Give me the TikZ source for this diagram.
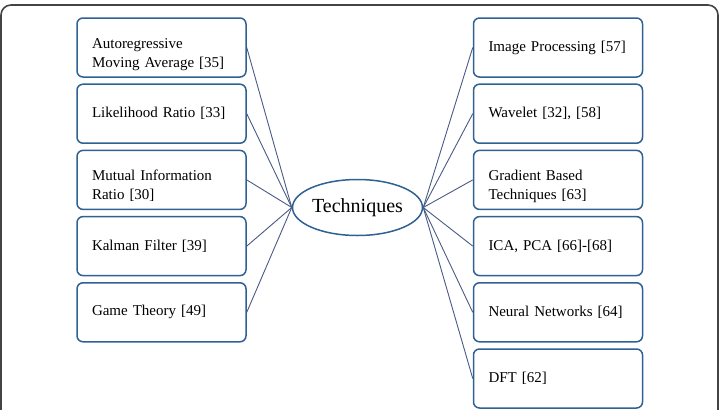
\documentclass[tikz,border=0pt]{standalone}
\usepackage{fontspec}
\setmainfont{Liberation Serif}
\usepackage{tikz}
\usepackage{xcolor}
\usetikzlibrary{shapes.geometric}

\definecolor{boxblue}{HTML}{2F6193}
\definecolor{linkblue}{HTML}{4A5A85}
\definecolor{framegray}{HTML}{444444}

\begin{document}
\begin{tikzpicture}[x=1pt,y=-1pt,
        techbox/.style={draw=boxblue,line width=1.5pt,rounded corners=6pt,
                        minimum width=169pt,minimum height=59pt,
                        text width=139pt,inner xsep=15pt,align=left,
                        font=\fontsize{15}{19}\selectfont},
        twoline/.style={techbox,text height=24pt,text depth=23pt},
        hub/.style={draw=boxblue,line width=1.5pt,ellipse,
                    minimum width=130pt,minimum height=56pt,inner sep=0pt,
                    font=\fontsize{20}{24}\selectfont},
        link/.style={linkblue,line width=0.9pt}]
            \useasboundingbox (0,0) rectangle (721,410);
            \draw[framegray,line width=1.6pt,rounded corners=10pt] (1,5) rectangle (718,440);

            \node[hub] (tech) at (357.5,207.5) {Techniques};

            % left column
            \node[twoline] (arma) at (161.5,47.5)  {Autoregressive\\Moving Average [35]};
            \node[techbox] (lr)   at (161.5,113.7) {Likelihood Ratio [33]};
            \node[twoline] (mir)  at (161.5,179.9) {Mutual Information\\Ratio [30]};
            \node[techbox] (kf)   at (161.5,246.1) {Kalman Filter [39]};
            \node[techbox] (gt)   at (161.5,312.3) {Game Theory [49]};

            % right column
            \node[techbox] (ip)   at (558,47.5)  {Image Processing [57]};
            \node[techbox] (wav)  at (558,113.7) {Wavelet [32], [58]};
            \node[twoline] (grad) at (558,179.9) {Gradient Based\\Techniques [63]};
            \node[techbox] (ica)  at (558,246.1) {ICA, PCA [66]-[68]};
            \node[techbox] (nn)   at (558,312.3) {Neural Networks [64]};
            \node[techbox] (dft)  at (558,378.5) {DFT [62]};

            \foreach \n in {arma,lr,mir,kf,gt}
                \draw[link] (\n.east) -- (tech.west);
            \foreach \n in {ip,wav,grad,ica,nn,dft}
                \draw[link] (\n.west) -- (tech.east);
        \end{tikzpicture}
\end{document}
